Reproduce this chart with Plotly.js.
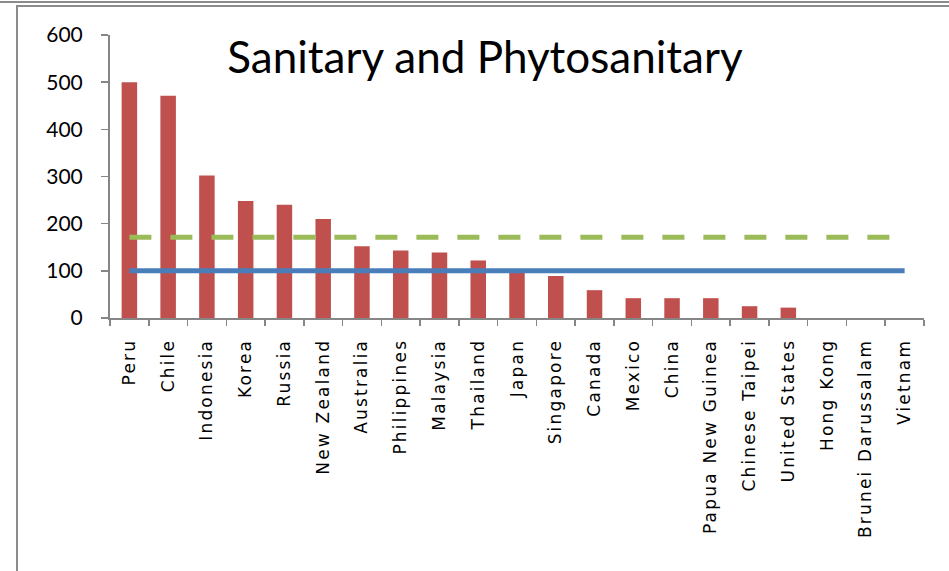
<!DOCTYPE html>
<html>
<head>
<meta charset="utf-8">
<script src="https://cdn.plot.ly/plotly-3.0.1.min.js"></script>
<style>
  html, body { margin: 0; padding: 0; background: #fff; }
  #wrap { position: relative; width: 949px; height: 571px; overflow: hidden; }
  #chart { position: absolute; left: 0; top: 0; width: 949px; height: 571px; }
  .bline { position: absolute; background: #8c8c8c; }
  .xtick text { letter-spacing: 2.2px; }
</style>
</head>
<body>
<div id="wrap">
  <div id="chart"></div>
  <div class="bline" style="left:0; top:1px; width:949px; height:2px;"></div>
  <div class="bline" style="left:16px; top:5px; width:933px; height:2px;"></div>
  <div class="bline" style="left:16px; top:5px; width:2px; height:566px;"></div>
</div>
<script>
const categories = ["Peru", "Chile", "Indonesia", "Korea", "Russia", "New Zealand", "Australia",
  "Philippines", "Malaysia", "Thailand", "Japan", "Singapore", "Canada", "Mexico", "China",
  "Papua New Guinea", "Chinese Taipei", "United States", "Hong Kong", "Brunei Darussalam", "Vietnam"];
const measures = [500, 471, 302, 248, 240, 210, 152, 143, 139, 122, 97, 89, 59, 42, 42, 42, 25, 22, 0, 0, 0];
const baseline = [100, 100, 100, 100, 100, 100, 100, 100, 100, 100, 100, 100, 100, 100, 100, 100, 100, 100, 100, 100, 100];
const average = [171, 171, 171, 171, 171, 171, 171, 171, 171, 171, 171, 171, 171, 171, 171, 171, 171, 171, 171, 171, 171];
const yTicks = [0, 100, 200, 300, 400, 500, 600];
const titleText = "Sanitary and Phytosanitary";

const traces = [
  {
    type: "bar", x: categories, y: measures,
    marker: { color: "#c0504d", line: { width: 0 } },
    hoverinfo: "x+y"
  },
  {
    type: "scatter", mode: "lines", x: categories, y: baseline,
    line: { color: "#4a7ebb", width: 5 }
  },
  {
    type: "scatter", mode: "lines", x: categories, y: average,
    line: { color: "#9bbb59", width: 5, dash: "22px,19px" }
  }
];

const layout = {
  width: 949, height: 571,
  margin: { l: 110, r: 25, t: 35, b: 253, pad: 0 },
  paper_bgcolor: "rgba(0,0,0,0)",
  plot_bgcolor: "rgba(0,0,0,0)",
  showlegend: false,
  bargap: 0.6,
  title: {
    text: titleText,
    font: { family: "Lato, 'Open Sans', sans-serif", size: 44, color: "#000" },
    x: 0.511, xref: "container", xanchor: "center",
    y: 0.9, yref: "container", yanchor: "middle"
  },
  xaxis: {
    type: "category",
    tickangle: -90,
    tickson: "boundaries",
    ticks: "outside", ticklen: 6, tickwidth: 1.5, tickcolor: "#868686",
    showline: true, linecolor: "#868686", linewidth: 2,
    showgrid: false, zeroline: false,
    tickfont: { family: "'DejaVu Sans', sans-serif", size: 17, color: "#000" },
    ticklabelstandoff: 12,
    fixedrange: true
  },
  yaxis: {
    range: [0, 600],
    tickvals: yTicks,
    ticktext: yTicks.map(String),
    ticks: "outside", ticklen: 7, tickwidth: 1.5, tickcolor: "#868686",
    showline: true, linecolor: "#868686", linewidth: 2,
    showgrid: false, zeroline: false,
    tickfont: { family: "Lato, 'Open Sans', sans-serif", size: 21, color: "#000" },
    ticklabelstandoff: 14,
    fixedrange: true
  }
};

Plotly.newPlot("chart", traces, layout, { displayModeBar: false, staticPlot: true });
</script>
</body>
</html>
